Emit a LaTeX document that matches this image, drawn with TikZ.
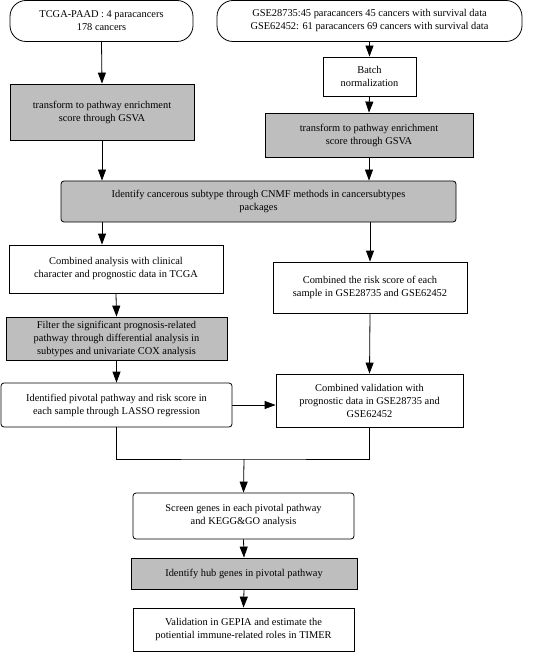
\documentclass[tikz,border=0pt]{standalone}
\usepackage{fontspec}
\setmainfont{Liberation Serif}
\usetikzlibrary{arrows.meta}
\definecolor{boxgray}{RGB}{190,190,190}
\begin{document}
\begin{tikzpicture}[x=1pt,y=-1pt,
  box/.style={draw, line width=0.8pt, align=center, inner sep=0pt, font=\fontsize{10.4}{13}\selectfont},
  gbox/.style={box, fill=boxgray},
  arr/.style={-{Triangle[length=11pt,width=8pt]}, line width=0.8pt},
  ln/.style={line width=0.8pt}]
\useasboundingbox (0,0) rectangle (545,652);
\node[box, rounded corners=16pt, minimum width=183, minimum height=41] (b1) at (101.5,21) {TCGA-PAAD : 4 paracancers\\178 cancers};
\node[box, rounded corners=16pt, minimum width=305, minimum height=41] (b2) at (369.5,21) {GSE28735:45 paracancers 45 cancers with survival data\\GSE62452: 61 paracancers 69 cancers with survival data};
\node[box, minimum width=93, minimum height=39] (batch) at (369.5,76.5) {Batch\\normalization};
\node[gbox, minimum width=184, minimum height=56] (gl) at (102,112) {transform to pathway enrichment\\score through GSVA};
\node[gbox, minimum width=208, minimum height=44] (gr) at (369,135) {transform to pathway enrichment\\score through GSVA};
\node[gbox, rounded corners=3pt, minimum width=395, minimum height=41] (cnmf) at (258.5,201.5) {Identify cancerous subtype through CNMF methods in cancersubtypes\\packages};
\node[box, minimum width=214, minimum height=48] (ca) at (116,269) {Combined analysis with clinical\\character and prognostic data in TCGA};
\node[box, minimum width=194, minimum height=51] (risk) at (370,287.5) {Combined the risk score of each\\sample in GSE28735 and GSE62452};
\node[gbox, minimum width=221, minimum height=43] (filt) at (116.5,338.5) {Filter the significant prognosis-related\\pathway through differential analysis in\\subtypes and univariate COX analysis};
\node[box, rounded corners=3pt, minimum width=231, minimum height=44] (ident) at (116.5,405) {Identified pivotal pathway and risk score in\\each sample through LASSO regression};
\node[box, minimum width=187, minimum height=53] (valid) at (369.5,400.5) {Combined validation with\\prognostic data in GSE28735 and\\GSE62452};
\node[box, rounded corners=3pt, minimum width=221, minimum height=46] (screen) at (243.5,516) {Screen genes in each pivotal pathway\\and KEGG\&GO analysis};
\node[gbox, minimum width=226, minimum height=31] (hub) at (244,573.5) {Identify hub genes in pivotal pathway};
\node[box, minimum width=221, minimum height=43] (fin) at (243.5,629.5) {Validation in GEPIA and estimate the\\potiential immune-related roles in TIMER};
\coordinate (join) at (244,459);
% left column
\draw[arr] (b1.south) -- (gl.north);
\draw[arr] (gl.south) -- (gl.south |- cnmf.north);
\draw[arr] (cnmf.south -| gl.south) -- (gl.south |- ca.north);
\draw[arr] (ca.south) -- (filt.north);
\draw[arr] (filt.south) -- (ident.north);
% right column
\draw[arr] (b2.south) -- (batch.north);
\draw[arr] (batch.south) -- (gr.north);
\draw[arr] (gr.south) -- (gr.south |- cnmf.north);
\draw[arr] (cnmf.south -| risk.north) -- (risk.north);
\draw[arr] (risk.south) -- (valid.north);
\draw[arr] (ident.east) -- (ident.east -| valid.west);
% join
\draw[ln] (ident.south) |- (join) -| (valid.south);
\draw[arr] (join) -- (screen.north);
\draw[arr] (screen.south) -- (hub.north);
\draw[arr] (hub.south) -- (fin.north);
\end{tikzpicture}
\end{document}
